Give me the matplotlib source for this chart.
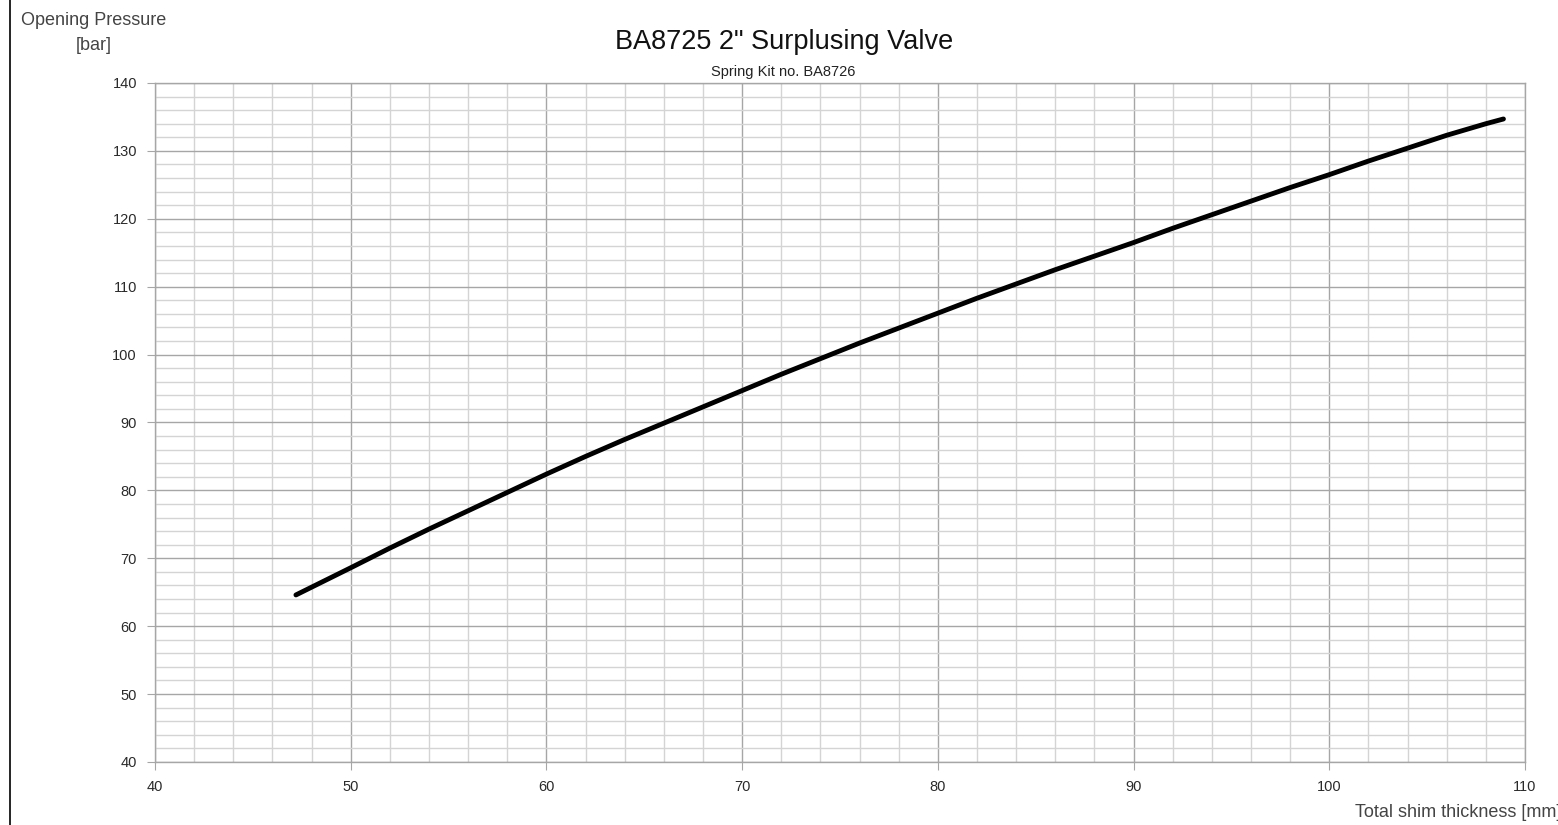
import numpy as np
import matplotlib.pyplot as plt
from matplotlib.lines import Line2D

# Curve (shim thickness in mm, opening pressure in bar)
thickness = [47.2, 50, 52, 54, 56, 58, 60, 62, 64, 66, 68, 70, 72, 74, 76, 78, 80,
             82, 84, 86, 88, 90, 92, 94, 96, 98, 100, 102, 104, 106, 108, 108.9]
pressure = [64.6, 68.6, 71.5, 74.3, 77.0, 79.7, 82.4, 85.0, 87.5, 89.9, 92.3, 94.7, 97.1,
            99.4, 101.7, 103.9, 106.1, 108.3, 110.4, 112.5, 114.5, 116.5, 118.6, 120.6,
            122.6, 124.6, 126.5, 128.5, 130.4, 132.3, 134.0, 134.7]

xticks = [40, 50, 60, 70, 80, 90, 100, 110]
yticks = [40, 50, 60, 70, 80, 90, 100, 110, 120, 130, 140]

plt.rcParams['font.family'] = ['Liberation Sans', 'DejaVu Sans']

fig = plt.figure(figsize=(15.58, 8.25), dpi=100)
ax = fig.add_axes([0.0995, 0.0764, 0.8793, 0.823])

ax.plot(thickness, pressure, color='black', lw=3.5, solid_capstyle='round',
        solid_joinstyle='round', zorder=3)

ax.set_xlim(40, 110)
ax.set_ylim(40, 140)
ax.set_xticks(xticks)
ax.set_yticks(yticks)
ax.set_xticks(np.arange(40, 111, 2), minor=True)
ax.set_yticks(np.arange(40, 141, 2), minor=True)

ax.grid(which='major', color='#a6a6a6', lw=1.0)
ax.grid(which='minor', color='#d4d4d4', lw=1.0)
ax.set_axisbelow(True)

for s in ax.spines.values():
    s.set_color('#a6a6a6')
    s.set_linewidth(1.0)

ax.tick_params(which='major', direction='out', length=6, color='#a6a6a6',
               labelsize=10.5, labelcolor='#2a2a2a', pad=7)
ax.tick_params(which='minor', length=0)

fig.text(0.503, 0.949, 'BA8725 2" Surplusing Valve', ha='center', va='center',
         fontsize=19.5, color='#111111')
fig.text(0.503, 0.913, 'Spring Kit no. BA8726', ha='center', va='center',
         fontsize=10.5, color='#222222')

fig.text(0.0603, 0.975, 'Opening Pressure', ha='center', va='center', fontsize=13, color='#444444')
fig.text(0.0603, 0.945, '[bar]', ha='center', va='center', fontsize=13, color='#444444')
fig.text(1.002, 0.015, 'Total shim thickness [mm]', ha='right', va='center', fontsize=13, color='#444444')

# left frame edge of the original sheet
fig.add_artist(Line2D([0.0065, 0.0065], [0, 1], transform=fig.transFigure, color='black', lw=1.2))

fig.savefig('out.png', dpi=100, facecolor='white')
